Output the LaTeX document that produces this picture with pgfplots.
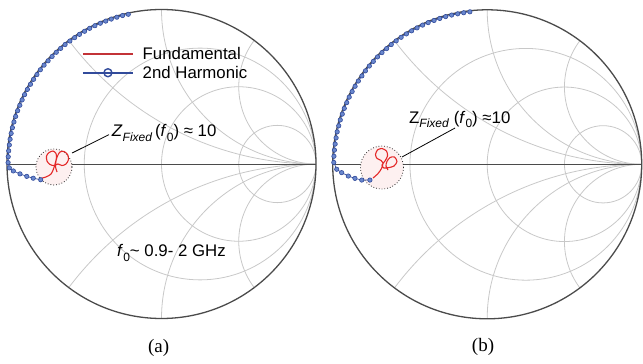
\documentclass[border=0pt]{standalone}
\usepackage{pgfplots}
\pgfplotsset{compat=1.18}
\usepackage{fontspec}
\setmainfont{Liberation Sans}
\newfontfamily\capfont{Liberation Serif}

\definecolor{gridgray}{RGB}{200,200,200}
\definecolor{rimgray}{RGB}{75,75,75}
\definecolor{harmblue}{RGB}{50,75,155}
\definecolor{harmfill}{RGB}{105,135,205}
\definecolor{fundred}{RGB}{228,40,40}
\definecolor{legred}{RGB}{195,50,55}

% label fonts
\newcommand{\lblfont}{\fontsize{16.8}{16.8}\selectfont}
\newcommand{\subfont}{\fontsize{12}{12}\selectfont}
\newcommand{\fzero}{\textit{f}\raisebox{-0.55ex}{\subfont 0}}

% Smith-chart grid (unit radius = 154.5pt):
% resistance circles r = 1/3, 1, 3 and reactance arcs x = +-0.5, +-1, +-2
\newcommand{\smithgrid}{%
  \begin{scope}
    \clip (axis cs:0,0) circle[radius=154.5pt];
    \draw[gridgray, line width=0.8pt] (axis cs:0.25,0) circle[radius=115.875pt];
    \draw[gridgray, line width=0.8pt] (axis cs:0.5,0)  circle[radius=77.25pt];
    \draw[gridgray, line width=0.8pt] (axis cs:0.75,0) circle[radius=38.625pt];
    \draw[gridgray, line width=0.8pt] (axis cs:1,2)    circle[radius=309pt];
    \draw[gridgray, line width=0.8pt] (axis cs:1,-2)   circle[radius=309pt];
    \draw[gridgray, line width=0.8pt] (axis cs:1,1)    circle[radius=154.5pt];
    \draw[gridgray, line width=0.8pt] (axis cs:1,-1)   circle[radius=154.5pt];
    \draw[gridgray, line width=0.8pt] (axis cs:1,0.5)  circle[radius=77.25pt];
    \draw[gridgray, line width=0.8pt] (axis cs:1,-0.5) circle[radius=77.25pt];
  \end{scope}
  \draw[rimgray, line width=0.9pt] (axis cs:-1,0) -- (axis cs:1,0);
  \draw[rimgray, line width=1.3pt] (axis cs:0,0) circle[radius=154.5pt];
}

\pgfplotsset{
  smithaxis/.style={scale only axis, width=309pt, height=309pt,
    xmin=-1, xmax=1, ymin=-1, ymax=1, hide axis, clip=false, anchor=center},
  harmonic/.style={harmblue, line width=0.7pt, mark=*, mark size=2.2pt,
    mark options={fill=harmfill, draw=harmblue, line width=0.6pt}, forget plot},
  fundamental/.style={fundred, line width=1.1pt, smooth, forget plot},
}

% reflection coefficients (Re, Im)
\pgfplotstableread{
re im
-0.215 0.969
-0.252 0.961
-0.289 0.950
-0.325 0.938
-0.361 0.925
-0.396 0.911
-0.431 0.895
-0.465 0.878
-0.498 0.859
-0.531 0.839
-0.562 0.818
-0.593 0.796
-0.624 0.773
-0.653 0.748
-0.681 0.723
-0.708 0.696
-0.734 0.668
-0.760 0.640
-0.784 0.610
-0.806 0.579
-0.828 0.548
-0.848 0.516
-0.868 0.483
-0.886 0.449
-0.902 0.415
-0.917 0.380
-0.931 0.345
-0.944 0.308
-0.955 0.272
-0.965 0.235
-0.973 0.198
-0.980 0.160
-0.985 0.123
-0.989 0.085
-0.992 0.047
-0.993 0.009
-0.985 -0.025
-0.959 -0.045
-0.916 -0.064
-0.872 -0.080
-0.830 -0.092
-0.782 -0.102
}\harmA

\pgfplotstableread{
re im
-0.786 -0.094
-0.748 -0.084
-0.715 -0.065
-0.699 -0.032
-0.689 0.000
-0.680 0.039
-0.683 0.068
-0.702 0.084
-0.728 0.074
-0.744 0.052
-0.741 0.019
-0.722 -0.003
-0.696 -0.010
-0.670 0.000
-0.644 -0.010
-0.618 0.000
-0.602 0.029
-0.608 0.061
-0.631 0.081
-0.657 0.078
-0.673 0.052
-0.683 0.019
-0.686 -0.019
-0.676 -0.052
}\fundA

\pgfplotstableread{
re im
-0.112 0.987
-0.152 0.981
-0.191 0.974
-0.230 0.966
-0.269 0.956
-0.307 0.944
-0.344 0.931
-0.382 0.917
-0.418 0.901
-0.454 0.883
-0.489 0.864
-0.523 0.844
-0.557 0.822
-0.589 0.799
-0.621 0.775
-0.651 0.749
-0.681 0.723
-0.710 0.695
-0.737 0.666
-0.763 0.636
-0.788 0.605
-0.811 0.572
-0.834 0.539
-0.855 0.505
-0.874 0.471
-0.893 0.435
-0.909 0.399
-0.925 0.362
-0.938 0.325
-0.951 0.287
-0.961 0.249
-0.971 0.210
-0.978 0.171
-0.984 0.131
-0.989 0.092
-0.992 0.052
-0.993 0.012
-0.974 -0.032
-0.942 -0.054
-0.899 -0.076
-0.856 -0.091
-0.812 -0.102
-0.759 -0.102
}\harmB

\pgfplotstableread{
re im
-0.739 -0.089
-0.707 -0.060
-0.684 -0.027
-0.674 0.008
-0.687 0.025
-0.713 0.038
-0.723 0.063
-0.710 0.093
-0.681 0.102
-0.652 0.086
-0.645 0.054
-0.662 0.021
-0.681 -0.005
-0.668 -0.024
-0.636 -0.021
-0.603 -0.011
-0.584 0.018
-0.600 0.047
-0.629 0.044
-0.649 0.018
-0.655 -0.011
-0.642 -0.037
}\fundB

\begin{document}
\begin{tikzpicture}
\useasboundingbox (0,0) rectangle (643pt,364pt);

% ---------------- (a) ----------------
\begin{axis}[smithaxis, at={(161.5pt,200pt)},
  legend style={at={(axis cs:-0.515,0.77)}, anchor=north west, draw=none,
    fill=none, font=\lblfont, inner sep=0pt, column sep=7pt,
    row sep=1pt},
  legend cell align=left,
  legend image code/.code={\draw[mark repeat=2,mark phase=2]
    plot coordinates {(0pt,0pt)(25pt,0pt)(50pt,0pt)};}]
\smithgrid
\draw[black!85, dotted, line width=0.8pt, fill=fundred!7]
  (axis cs:-0.696,-0.019) circle[radius=18pt];
\draw[black, line width=0.8pt] (axis cs:-0.579,0.071) -- (axis cs:-0.340,0.190);
\addplot[harmonic] table[x=re, y=im] {\harmA};
\addplot[fundamental] table[x=re, y=im] {\fundA};
\addlegendimage{legred, line width=1.6pt}
\addlegendentry{Fundamental}
\addlegendimage{harmblue, line width=1.6pt, mark=o, mark size=4pt,
  mark options={fill=white, line width=1.4pt}}
\addlegendentry{2nd Harmonic}
\node[anchor=base west, font=\lblfont, inner sep=0pt]
  at (axis cs:-0.322,0.175)
  {\textit{Z}\raisebox{-0.55ex}{\subfont\textit{Fixed}}\,(\fzero) ≈ 10};
\node[anchor=base west, font=\lblfont, inner sep=0pt]
  at (axis cs:-0.288,-0.600) {\fzero\textasciitilde\ 0.9- 2 GHz};
\node[font=\capfont\fontsize{19}{19}\selectfont] at (axis cs:-0.019,-1.191) {(a)};
\end{axis}

% ---------------- (b) ----------------
\begin{axis}[smithaxis, at={(487.2pt,199.7pt)}]
\smithgrid
\draw[black!85, dotted, line width=0.8pt, fill=fundred!7]
  (axis cs:-0.681,-0.021) circle[radius=21.5pt];
\draw[black, line width=0.8pt] (axis cs:-0.552,0.047) -- (axis cs:-0.208,0.235);
\addplot[harmonic] table[x=re, y=im] {\harmB};
\addplot[fundamental] table[x=re, y=im] {\fundB};
\node[anchor=base west, font=\lblfont, inner sep=0pt]
  at (axis cs:-0.506,0.267)
  {Z\raisebox{-0.55ex}{\subfont\textit{Fixed}}\ (\fzero) ≈10};
\node[font=\capfont\fontsize{19}{19}\selectfont] at (axis cs:-0.027,-1.183) {(b)};
\end{axis}
\end{tikzpicture}
\end{document}
